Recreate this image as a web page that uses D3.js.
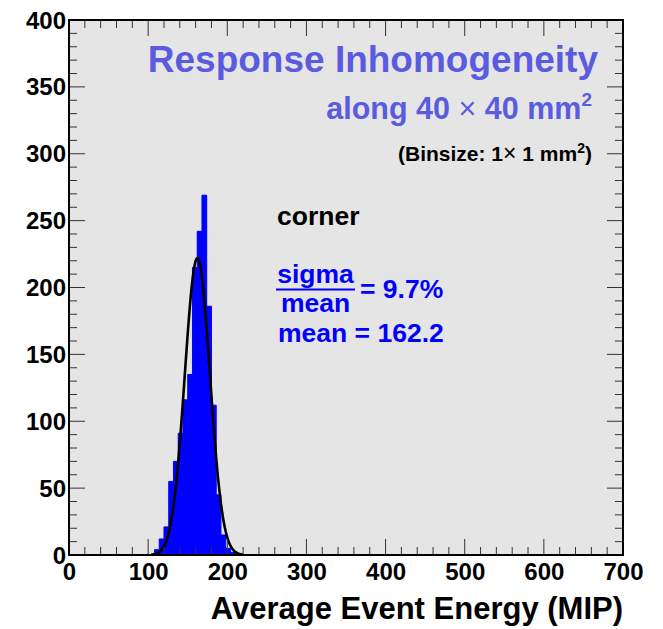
<!DOCTYPE html>
<html>
<head>
<meta charset="utf-8">
<script src="https://cdn.jsdelivr.net/npm/d3@7"></script>
<style>
  html, body { margin: 0; padding: 0; background: #ffffff; }
  svg text { font-family: "Liberation Sans", Arial, Helvetica, sans-serif; font-weight: bold; }
</style>
</head>
<body>
<svg id="chart" width="663" height="629"></svg>
<script>
// ---- data ----
const histRange = [0, 600];
const binWidth = 6;
const binStarts = [108, 114, 120, 126, 132, 138, 144, 150, 156, 162, 168, 174, 180, 186, 192, 198, 204];
const binCounts = [4, 12, 21, 55, 70, 91, 116, 135, 215, 242, 269, 186, 112, 45, 15, 5, 2];
// Gaussian fit parameters (constant, mean, sigma) and fit range
const fitConstant = 222;
const fitMean = 162.2;
const fitSigma = 15.9;
const fitRange = [104, 220];
const xTicks = [0, 100, 200, 300, 400, 500, 600, 700];
const yTicks = [0, 50, 100, 150, 200, 250, 300, 350, 400];
const xDomain = [0, 700];
const yDomain = [0, 400];

// ---- layout ----
const svg = d3.select("#chart");
const L = 69, R = 623, T = 20, B = 555;
const x = d3.scaleLinear().domain(xDomain).range([L, R]);
const y = d3.scaleLinear().domain(yDomain).range([B, T]);

// frame background
svg.append("rect").attr("x", L).attr("y", T).attr("width", R - L).attr("height", B - T)
  .attr("fill", "#e5e5e5");

// full histogram array
const nBins = (histRange[1] - histRange[0]) / binWidth;
const counts = d3.range(nBins).map(i => {
  const lo = histRange[0] + i * binWidth;
  const k = binStarts.indexOf(lo);
  return k >= 0 ? binCounts[k] : 0;
});
// step path
let pts = [[histRange[0], 0]];
counts.forEach((c, i) => {
  const lo = histRange[0] + i * binWidth;
  pts.push([lo, c]);
  pts.push([lo + binWidth, c]);
});
pts.push([histRange[1], 0]);
const line = d3.line().x(d => x(d[0])).y(d => y(d[1]));
svg.append("path").attr("d", line(pts) + "Z")
  .attr("fill", "#0000ff").attr("stroke", "#0000ff").attr("stroke-width", 1);

// fit curve
const fitPts = d3.range(0, 101).map(i => {
  const xv = fitRange[0] + (fitRange[1] - fitRange[0]) * i / 100;
  return [xv, fitConstant * Math.exp(-0.5 * Math.pow((xv - fitMean) / fitSigma, 2))];
});
svg.append("path").attr("d", line(fitPts)).attr("fill", "none")
  .attr("stroke", "#000").attr("stroke-width", 2.6).attr("stroke-linejoin", "round");

// ticks (ROOT style: inside the frame, on all four sides)
const tickCol = "#333";
const g = svg.append("g");
const xMinor = d3.range(xDomain[0], xDomain[1] + 1, 20);
const yMinor = d3.range(yDomain[0], yDomain[1] + 1, 10);
xMinor.forEach(v => {
  const major = xTicks.includes(v);
  const len = major ? 16 : 8;
  g.append("line").attr("x1", x(v)).attr("x2", x(v)).attr("y1", B).attr("y2", B - len)
    .attr("stroke", tickCol).attr("stroke-width", 1);
  g.append("line").attr("x1", x(v)).attr("x2", x(v)).attr("y1", T).attr("y2", T + len)
    .attr("stroke", tickCol).attr("stroke-width", 1);
});
yMinor.forEach(v => {
  const major = yTicks.includes(v);
  const len = major ? 16 : 8;
  g.append("line").attr("x1", L).attr("x2", L + len).attr("y1", y(v)).attr("y2", y(v))
    .attr("stroke", tickCol).attr("stroke-width", 1);
  g.append("line").attr("x1", R).attr("x2", R - len).attr("y1", y(v)).attr("y2", y(v))
    .attr("stroke", tickCol).attr("stroke-width", 1);
});

// axis labels using d3 axes (no tick lines)
const xAx = svg.append("g").attr("transform", `translate(0,${B})`)
  .call(d3.axisBottom(x).tickValues(xTicks).tickSize(0).tickPadding(0));
xAx.select(".domain").remove();
xAx.selectAll("text").attr("y", 25).attr("dy", 0).attr("font-size", 24)
  .attr("fill", "#000").style("font-family", "'Liberation Sans', Arial, sans-serif").style("font-weight", "bold");

const yAx = svg.append("g").attr("transform", `translate(${L},0)`)
  .call(d3.axisLeft(y).tickValues(yTicks).tickSize(0).tickPadding(0));
yAx.select(".domain").remove();
yAx.selectAll("text").attr("x", -3).attr("dy", 8).attr("font-size", 24)
  .attr("fill", "#000").style("font-family", "'Liberation Sans', Arial, sans-serif").style("font-weight", "bold");

// frame
svg.append("rect").attr("x", L).attr("y", T).attr("width", R - L).attr("height", B - T)
  .attr("fill", "none").attr("stroke", "#000").attr("stroke-width", 2);

// axis title
svg.append("text").attr("x", R).attr("y", 619).attr("text-anchor", "end")
  .attr("font-size", 31).attr("fill", "#000").text("Average Event Energy (MIP)");

// annotations
const titleCol = "#5b5be0";
svg.append("text").attr("x", 598).attr("y", 72).attr("text-anchor", "end")
  .attr("font-size", 37).attr("fill", titleCol).text("Response Inhomogeneity");

const t2 = svg.append("text").attr("x", 592).attr("y", 119).attr("text-anchor", "end")
  .attr("font-size", 30.5).attr("fill", titleCol);
t2.append("tspan").text("along 40 ");
t2.append("tspan").attr("font-weight", "normal").text("×");
t2.append("tspan").text(" 40 mm");
t2.append("tspan").attr("font-size", 19).attr("dy", -13).text("2");

const t3 = svg.append("text").attr("x", 592).attr("y", 161).attr("text-anchor", "end")
  .attr("font-size", 21).attr("fill", "#000");
t3.append("tspan").text("(Binsize: 1");
t3.append("tspan").attr("font-weight", "normal").attr("font-size", 23).text("×");
t3.append("tspan").text(" 1 mm");
t3.append("tspan").attr("font-size", 14).attr("dy", -8).text("2");
t3.append("tspan").attr("dy", 8).text(")");

svg.append("text").attr("x", 277).attr("y", 225).attr("font-size", 26.5).attr("fill", "#000").text("corner");

const blue = "#0000ff";
svg.append("text").attr("x", 315.5).attr("y", 283).attr("text-anchor", "middle")
  .attr("font-size", 26.5).attr("fill", blue).text("sigma");
svg.append("line").attr("x1", 276).attr("x2", 355).attr("y1", 289.5).attr("y2", 289.5)
  .attr("stroke", blue).attr("stroke-width", 2);
svg.append("text").attr("x", 315.5).attr("y", 311.5).attr("text-anchor", "middle")
  .attr("font-size", 26.5).attr("fill", blue).text("mean");
svg.append("text").attr("x", 360).attr("y", 297.5)
  .attr("font-size", 26.5).attr("fill", blue).text("= 9.7%");
svg.append("text").attr("x", 278).attr("y", 342)
  .attr("font-size", 26.5).attr("fill", blue).text("mean = 162.2");
</script>
</body>
</html>
